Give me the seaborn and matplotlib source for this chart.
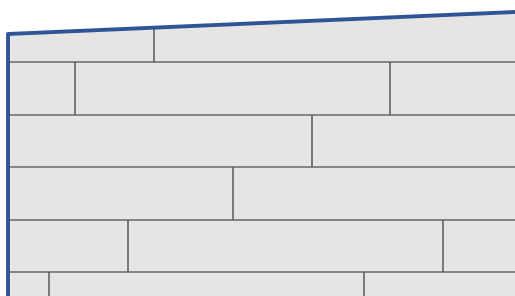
import matplotlib
matplotlib.use("Agg")
import matplotlib.pyplot as plt
import seaborn as sns
import pandas as pd

# outline of the room (top wall slopes up to the right)
wall_x = [8, 8, 515]
wall_y = [296, 34, 12]

# plank rows: boundaries between rows (pixel units of the plan)
row_edges = [62, 115, 167, 220, 272]
# end joints inside each row, top to bottom
row_tops = [23, 62, 115, 167, 220, 272]
row_bottoms = [62, 115, 167, 220, 272, 296]
joints = [
    [154],
    [75, 390],
    [312],
    [233],
    [128, 443],
    [49, 364],
]

sns.set_theme(style="white")

fig = plt.figure(figsize=(5.15, 2.96), dpi=100)
ax = fig.add_axes([0, 0, 1, 1])

# floor fill
floor_x = wall_x + [515]
floor_y = wall_y + [296]
ax.fill(floor_x, floor_y, color="#e6e5e4", zorder=1)

# row seams
ax.hlines(row_edges, 5, 515, color="#6a6a6a", linewidth=1.1, zorder=2)

# end joints
for top, bottom, xs in zip(row_tops, row_bottoms, joints):
    ax.vlines(xs, top, bottom, color="#5a5a5a", linewidth=1.1, zorder=2)

# white above the wall line so the top row is cut along the slope
ax.fill([0, 0, 515, 515], [0, 34, 12, 0], color="white", zorder=3)
ax.fill([0, 7, 7, 0], [34, 34, 296, 296], color="white", zorder=3)

wall = pd.DataFrame({"x": wall_x, "y": wall_y})
sns.lineplot(data=wall, x="x", y="y", sort=False, estimator=None,
             color="#2f5597", linewidth=2.8, ax=ax, zorder=4)

ax.set_xlim(0, 515)
ax.set_ylim(296, 0)
ax.axis("off")

fig.savefig("out.png", dpi=100)
